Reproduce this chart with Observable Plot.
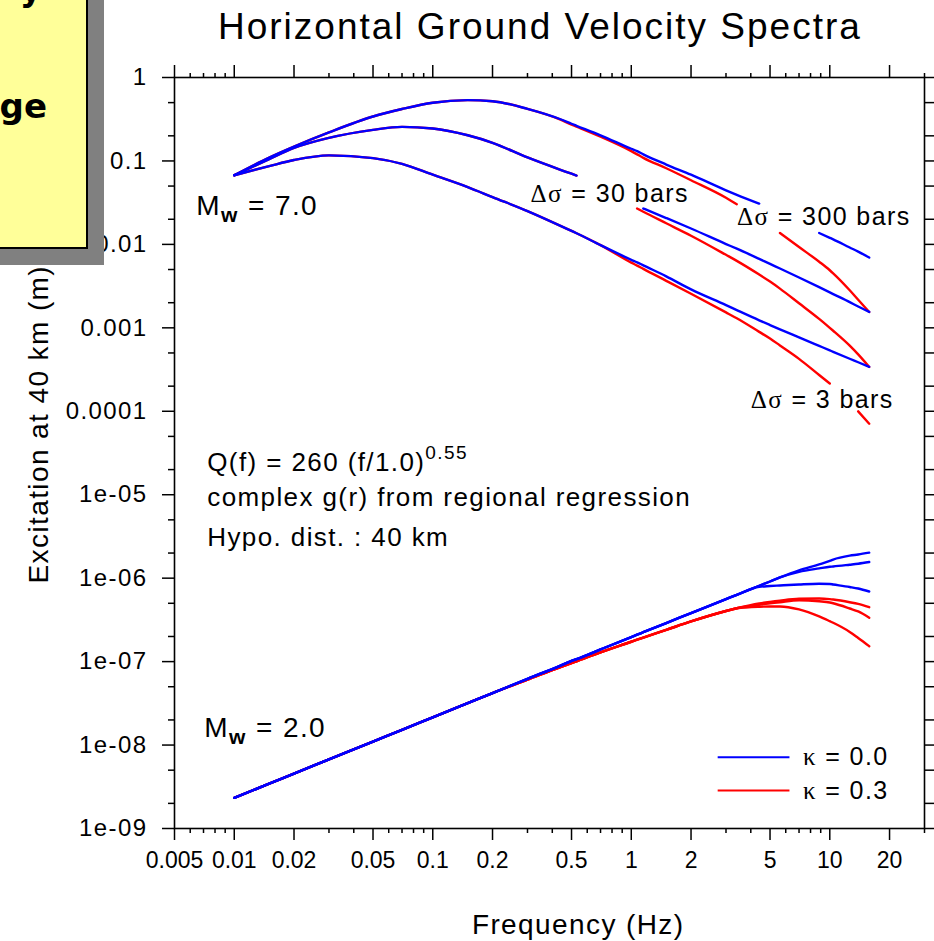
<!DOCTYPE html>
<html><head><meta charset="utf-8">
<script src="https://cdn.jsdelivr.net/npm/d3@7"></script>
<script src="https://cdn.jsdelivr.net/npm/@observablehq/plot@0.6"></script>
<style>
body{margin:0;background:#fff;font-family:"Liberation Sans",Arial,sans-serif;}
#wrap{position:relative;width:934px;height:941px;overflow:hidden;background:#fff;}
#title{position:absolute;left:0;top:0;width:934px;height:60px;}
#title span{position:absolute;left:218px;top:8px;font-size:37px;line-height:37px;letter-spacing:2px;color:#000;white-space:nowrap;}
#chart{position:absolute;left:0;top:60px;}
#chart text{letter-spacing:1.4px;}
#chart .xtick text{letter-spacing:0px;}
#note{position:absolute;left:-40px;top:-60px;width:128px;height:309px;box-sizing:border-box;background:#ffff99;border:2px solid #000;box-shadow:16px 16px 0 #808080;z-index:5;overflow:hidden;}
#note span{position:absolute;right:39px;font-family:"DejaVu Sans",sans-serif;font-weight:bold;font-size:34px;line-height:34px;color:#000;white-space:nowrap;}
</style>
</head><body>
<div id="wrap">
  <div id="title"><span>Horizontal Ground Velocity Spectra</span></div>
  <div id="chart"></div>
  <div id="note"><span style="top:30px;right:44px">y</span><span style="top:147px">nge</span></div>
</div>
<script>
// ---- data ----
const freq = [0.01, 0.015, 0.02, 0.03, 0.05, 0.07, 0.1, 0.15, 0.2, 0.3, 0.44, 0.5, 0.53, 0.7, 1, 1.07, 1.15, 1.5, 2, 3, 3.4, 4.41, 5, 5.61, 7, 8.84, 10, 10.4, 12.6, 13.9, 15.8];

// Mw = 7.0, kappa = 0.0 (blue)
const m7_300_k00 = [0.0674, 0.110, 0.149, 0.220, 0.341, 0.419, 0.499, 0.535, 0.520, 0.421, 0.316, 0.279, 0.264, 0.203, 0.140, 0.131, 0.120, 0.0906, 0.0684, 0.0445, 0.0393, 0.0308, null, null, null, 0.0137, 0.0120, 0.0115, 0.00918, 0.0082, 0.00695];
const m7_30_k00 = [0.0674, 0.105, 0.143, 0.189, 0.236, 0.256, 0.245, 0.203, 0.165, 0.110, 0.0783, 0.0703, 0.0668, null, null, null, 0.0269, 0.0207, 0.0155, 0.0101, 0.00888, 0.0067, 0.00583, 0.00514, 0.00401, 0.00307, 0.00266, 0.00254, 0.00203, 0.0018, 0.00155];
const m7_3_k00 = [0.0674, 0.0866, 0.1025, 0.1167, 0.108, 0.0923, 0.0684, 0.0486, 0.0369, 0.0251, 0.0167, 0.0145, 0.0136, 0.0098, 0.00654, 0.0061, 0.00561, 0.00414, 0.00289, 0.00187, 0.00163, 0.00123, 0.00108, 0.00096, 0.000769, 0.000608, 0.000537, 0.000516, 0.000426, 0.000387, 0.000341];
// Mw = 7.0, kappa = 0.3 (red)
const m7_300_k03 = [0.0674, 0.110, 0.149, 0.220, 0.341, 0.419, 0.499, 0.535, 0.520, 0.421, 0.313, 0.272, 0.257, 0.195, 0.131, 0.120, 0.109, 0.0817, 0.0587, 0.0362, 0.0303, null, null, 0.0137, 0.0093, 0.0062, 0.0049, 0.0045, 0.00282, 0.00217, 0.00155];
const m7_30_k03 = [0.0674, 0.105, 0.143, 0.189, 0.236, 0.256, 0.245, 0.203, 0.165, 0.110, 0.0783, 0.0703, 0.0668, null, null, 0.0269, 0.0246, 0.0179, 0.0127, 0.0075, 0.00635, 0.00435, 0.00358, 0.00295, 0.00197, 0.00128, 0.0010, 0.000923, 0.000612, 0.000481, 0.00034];
const m7_3_k03 = [0.0674, 0.0866, 0.1025, 0.1167, 0.108, 0.0923, 0.0684, 0.0486, 0.0369, 0.0251, 0.0167, 0.0145, 0.0136, 0.0098, 0.00605, 0.00557, 0.00508, 0.00366, 0.00256, 0.00153, 0.0013, 0.000895, 0.000745, 0.000615, 0.000425, 0.000272, 0.000215, null, null, 0.0000998, 0.000071];

// Mw = 2.0, kappa = 0.0 (blue)
const m2_300_k00 = [2.33e-9, 3.44e-9, 4.55e-9, 6.72e-9, 1.10e-8, 1.52e-8, 2.15e-8, 3.18e-8, 4.20e-8, 6.21e-8, 8.97e-8, 1.02e-7, 1.07e-7, 1.40e-7, 1.97e-7, 2.10e-7, 2.25e-7, 2.90e-7, 3.81e-7, 5.61e-7, 6.32e-7, 8.11e-7, 9.12e-7, 1.02e-6, 1.24e-6, 1.46e-6, 1.61e-6, 1.67e-6, 1.86e-6, 1.92e-6, 2.02e-6];
const m2_30_k00 = [2.33e-9, 3.44e-9, 4.55e-9, 6.72e-9, 1.10e-8, 1.52e-8, 2.15e-8, 3.18e-8, 4.20e-8, 6.21e-8, 8.97e-8, 1.02e-7, 1.07e-7, 1.40e-7, 1.97e-7, 2.10e-7, 2.25e-7, 2.90e-7, 3.81e-7, 5.61e-7, 6.32e-7, 8.11e-7, 9.12e-7, 1.02e-6, 1.19e-6, 1.31e-6, 1.37e-6, 1.38e-6, 1.45e-6, 1.49e-6, 1.56e-6];
const m2_3_k00 = [2.33e-9, 3.44e-9, 4.55e-9, 6.72e-9, 1.10e-8, 1.52e-8, 2.15e-8, 3.18e-8, 4.20e-8, 6.21e-8, 8.97e-8, 1.02e-7, 1.07e-7, 1.40e-7, 1.97e-7, 2.10e-7, 2.25e-7, 2.90e-7, 3.81e-7, 5.61e-7, 6.30e-7, 7.89e-7, 8.05e-7, 8.17e-7, 8.40e-7, 8.57e-7, 8.52e-7, 8.40e-7, 7.84e-7, 7.52e-7, 6.92e-7];
// Mw = 2.0, kappa = 0.3 (red)
const m2_300_k03 = [2.33e-9, 3.44e-9, 4.55e-9, 6.72e-9, 1.10e-8, 1.52e-8, 2.15e-8, 3.18e-8, 4.20e-8, 6.07e-8, 8.61e-8, 9.6e-8, 1.01e-7, 1.29e-7, 1.73e-7, 1.83e-7, 1.94e-7, 2.40e-7, 3.03e-7, 4.04e-7, 4.36e-7, 4.98e-7, 5.2e-7, 5.38e-7, 5.66e-7, 5.71e-7, 5.61e-7, 5.55e-7, 5.15e-7, 4.91e-7, 4.49e-7];
const m2_30_k03 = [2.33e-9, 3.44e-9, 4.55e-9, 6.72e-9, 1.10e-8, 1.52e-8, 2.15e-8, 3.18e-8, 4.20e-8, 6.07e-8, 8.61e-8, 9.6e-8, 1.01e-7, 1.29e-7, 1.73e-7, 1.83e-7, 1.94e-7, 2.40e-7, 3.03e-7, 4.04e-7, 4.36e-7, 4.81e-7, 4.98e-7, 5.15e-7, 5.43e-7, 5.28e-7, 5.11e-7, 5.0e-7, 4.33e-7, 3.99e-7, 3.35e-7];
const m2_3_k03 = [2.33e-9, 3.44e-9, 4.55e-9, 6.72e-9, 1.10e-8, 1.52e-8, 2.15e-8, 3.18e-8, 4.20e-8, 6.07e-8, 8.61e-8, 9.6e-8, 1.01e-7, 1.29e-7, 1.73e-7, 1.83e-7, 1.94e-7, 2.40e-7, 3.03e-7, 4.04e-7, 4.36e-7, 4.55e-7, 4.58e-7, 4.58e-7, 4.22e-7, 3.48e-7, 3.05e-7, 2.92e-7, 2.27e-7, 1.92e-7, 1.53e-7];

const kappaLabels = ["κ = 0.0", "κ = 0.3"];
const stressLabels = ["Δσ = 30 bars", "Δσ = 300 bars", "Δσ = 3 bars"];
const magnitudeLabels = ["Mw = 7.0", "Mw = 2.0"];
const noteLines = ["Q(f) = 260 (f/1.0)0.55", "complex g(r) from regional regression", "Hypo. dist. : 40 km"];

const xMajor = [0.005, 0.01, 0.02, 0.05, 0.1, 0.2, 0.5, 1, 2, 5, 10, 20];
const xTickLabels = ["0.005", "0.01", "0.02", "0.05", "0.1", "0.2", "0.5", "1", "2", "5", "10", "20"];
const yMajor = [1, 0.1, 0.01, 0.001, 0.0001, 1e-5, 1e-6, 1e-7, 1e-8, 1e-9];
const yTickLabels = ["1", "0.1", "0.01", "0.001", "0.0001", "1e-05", "1e-06", "1e-07", "1e-08", "1e-09"];

// ---- build ----
function rows(id, vals) {
  return vals.map((v, i) => ({id, f: freq[i], v: v == null ? NaN : v}));
}
const blueRows = [].concat(
  rows("m7_300", m7_300_k00), rows("m7_30", m7_30_k00), rows("m7_3", m7_3_k00),
  rows("m2_300", m2_300_k00), rows("m2_30", m2_30_k00), rows("m2_3", m2_3_k00));
const redRows = [].concat(
  rows("m7_300", m7_300_k03), rows("m7_30", m7_30_k03), rows("m7_3", m7_3_k03),
  rows("m2_300", m2_300_k03), rows("m2_30", m2_30_k03), rows("m2_3", m2_3_k03));

const xMinor = [];
for (const d of [0.001, 0.01, 0.1, 1, 10]) for (const m of [3, 4, 6, 7, 8, 9]) {
  const t = +(d * m).toPrecision(3);
  if (t > 0.005 && t <= 30) xMinor.push(t);
}
const yMinor = [];
for (const d of yMajor.slice(1)) for (const m of [2, 5]) yMinor.push(+(d * m).toPrecision(3));

const yFmt = new Map(yMajor.map((d, i) => [d, yTickLabels[i]]));
const blank = () => "";

const BLUE = "#0000ff", RED = "#ff0000";
const CURVE = "monotone-x";

const plot = Plot.plot({
  width: 934, height: 881,
  marginLeft: 174, marginRight: 10, marginTop: 17, marginBottom: 113,
  style: {fontFamily: "'Liberation Sans', Arial, sans-serif", fontSize: "24px", color: "#000", background: "transparent"},
  x: {type: "log", domain: [0.005, 30]},
  y: {type: "log", domain: [1e-9, 1]},
  marks: [
    Plot.line(redRows, {x: "f", y: "v", z: "id", stroke: RED, strokeWidth: 2.4, curve: CURVE}),
    Plot.line(blueRows, {x: "f", y: "v", z: "id", stroke: BLUE, strokeWidth: 2.4, curve: CURVE}),
    Plot.frame({stroke: "#000", strokeWidth: 1.6}),
    Plot.axisX(xMajor, {anchor: "bottom", tickSize: 12, strokeWidth: 1.5, tickFormat: blank, label: null}),
    Plot.axisX(xMinor, {anchor: "bottom", tickSize: 5, strokeWidth: 1.5, tickFormat: blank, label: null}),
    Plot.text(xMajor, {x: d => d, frameAnchor: "bottom", text: (d, i) => xTickLabels[i], dy: 39, fontSize: 23, textAnchor: "middle", className: "xtick"}),
    Plot.axisX(xMajor, {anchor: "top", tickSize: 13, strokeWidth: 1.5, tickFormat: blank, label: null}),
    Plot.axisX(xMinor, {anchor: "top", tickSize: 5, strokeWidth: 1.5, tickFormat: blank, label: null}),
    Plot.axisY(yMajor, {anchor: "left", tickSize: 12, tickPadding: 15, strokeWidth: 1.5, tickFormat: d => yFmt.get(d), label: null, fontSize: 24}),
    Plot.axisY(yMinor, {anchor: "left", tickSize: 6, strokeWidth: 1.5, tickFormat: blank, label: null}),
    Plot.axisY(yMajor, {anchor: "right", tickSize: 9, strokeWidth: 1.5, tickFormat: blank, label: null}),
    Plot.axisY(yMinor, {anchor: "right", tickSize: 9, strokeWidth: 1.5, tickFormat: blank, label: null}),
    // axis titles
    Plot.text(["Frequency (Hz)"], {x: [0.54], y: [6.9e-11], fontSize: 28, textAnchor: "middle"}),
    Plot.text(["Excitation at 40 km (m)"], {x: [0.00104], y: [7e-5], fontSize: 28, rotate: -90, textAnchor: "middle"}),
    // annotations
    Plot.text([magnitudeLabels[0]], {x: [0.00644], y: [0.0286], fontSize: 28, textAnchor: "start"}),
    Plot.text([magnitudeLabels[1]], {x: [0.00707], y: [1.62e-8], fontSize: 28, textAnchor: "start"}),
    Plot.text([stressLabels[0]], {x: [0.311], y: [0.0399], fontSize: 25, textAnchor: "start"}),
    Plot.text([stressLabels[1]], {x: [3.41], y: [0.0213], fontSize: 25, textAnchor: "start"}),
    Plot.text([stressLabels[2]], {x: [4.0], y: [1.35e-4], fontSize: 25, textAnchor: "start"}),
    Plot.text([noteLines[0]], {x: [0.00731], y: [2.44e-5], fontSize: 26, textAnchor: "start"}),
    Plot.text([noteLines[1]], {x: [0.00731], y: [9.27e-6], fontSize: 26, textAnchor: "start"}),
    Plot.text([noteLines[2]], {x: [0.00731], y: [3.08e-6], fontSize: 26, textAnchor: "start"}),
    // legend
    Plot.ruleY([7.14e-9], {x1: 2.74, x2: 6.3, stroke: BLUE, strokeWidth: 2}),
    Plot.ruleY([2.85e-9], {x1: 2.74, x2: 6.3, stroke: RED, strokeWidth: 2}),
    Plot.text([kappaLabels[0]], {x: [7.32], y: [7.14e-9], fontSize: 25, textAnchor: "start"}),
    Plot.text([kappaLabels[1]], {x: [7.32], y: [2.85e-9], fontSize: 25, textAnchor: "start"})
  ]
});
document.getElementById("chart").appendChild(plot);

// rich text (subscripts, superscripts, symbol glyphs)
const svg = d3.select(plot);
svg.selectAll("text").each(function() {
  const t = d3.select(this);
  const s = this.textContent;
  if (magnitudeLabels.includes(s)) {
    t.text("");
    t.append("tspan").text("M");
    t.append("tspan").attr("font-weight", "bold").attr("font-size", "21px").attr("dy", "7").text("w");
    t.append("tspan").attr("dy", "-7").text(s.slice(2));
  } else if (s === noteLines[0]) {
    t.text("");
    t.append("tspan").text("Q(f) = 260 (f/1.0)");
    t.append("tspan").attr("font-size", "19px").attr("dy", "-12").text("0.55");
  } else if (stressLabels.includes(s)) {
    t.text("");
    t.append("tspan").attr("font-family", "'Liberation Serif', 'DejaVu Serif', serif").text("Δσ");
    t.append("tspan").text(s.slice(2));
  } else if (kappaLabels.includes(s)) {
    t.text("");
    t.append("tspan").attr("font-family", "'Liberation Serif', 'DejaVu Serif', serif").text("κ");
    t.append("tspan").text(s.slice(1));
  }
});
</script>
</body></html>
